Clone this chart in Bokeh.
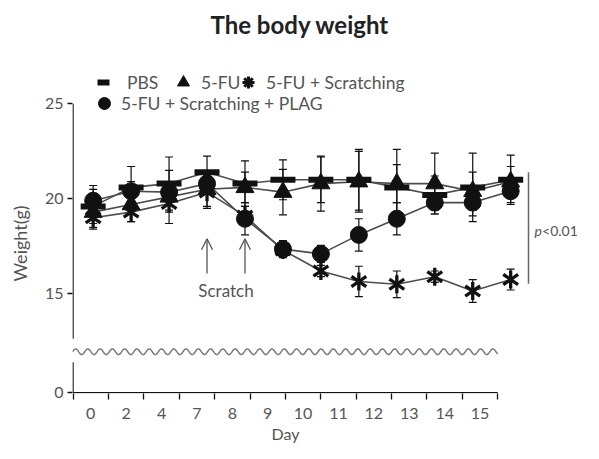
import math
from bokeh.plotting import figure
from bokeh.models import (Range1d, FixedTicker, CustomJSTickFormatter, ColumnDataSource,
                          Whisker, TeeHead, Legend, LegendItem, Arrow, OpenHead, Title)
from bokeh.core.properties import value
from bokeh.embed import file_html
from bokeh.resources import INLINE

# ---------------- data ----------------
days = ["0", "2", "4", "7", "8", "9", "10", "11", "12", "13", "14", "15"]
pbs_mean = [19.6, 20.6, 20.8, 21.4, 20.8, 21.0, 21.0, 21.0, 20.6, 20.2, 20.6, 21.0]
pbs_sd = [0.9, 1.1, 1.4, 0.85, 1.2, 1.05, 1.2, 1.6, 2.0, 1.0, 1.8, 1.3]
fu_mean = [19.3, 19.7, 20.1, 20.5, 20.6, 20.35, 20.8, 20.9, 20.8, 20.8, 20.4, 20.9]
fu_sd = [0.8, 0.9, 1.4, 0.9, 0.8, 1.2, 1.45, 1.6, 1.0, 1.6, 1.0, 0.8]
scr_mean = [19.0, 19.3, 19.75, 20.35, 19.1, 17.3, 16.2, 15.65, 15.5, 15.9, 15.15, 15.75]
scr_sd = [0.6, 0.5, 0.45, 0.85, 0.5, 0.3, 0.3, 0.8, 0.7, 0.3, 0.6, 0.55]
plag_mean = [19.9, 20.4, 20.35, 20.8, 18.95, 17.35, 17.1, 18.1, 18.95, 19.8, 19.8, 20.4]
plag_sd = [0.8, 0.5, 0.5, 0.5, 0.85, 0.45, 0.45, 0.85, 0.85, 0.4, 0.7, 0.6]
series_labels = ["PBS", "5-FU", "5-FU + Scratching", "5-FU + Scratching + PLAG"]
y_tick_labels = ["0", "15", "20", "25"]
scratch_days = ["7", "8"]
p_text = "<0.01"

# ---------------- layout constants ----------------
FONT = "Lato"
INK = "#111111"
LINE = "#4d4d4d"
TEXT = "#555555"
Y_ZERO = 9.8            # display position of the 0 tick below the axis break
Y_BREAK_LOW = 11.4      # top of lower axis stub
Y_BREAK_HIGH = 12.63    # bottom of upper axis part
WAVE_Y, WAVE_AMP, WAVE_PERIOD = 11.95, 0.153, 0.3234
LABEL_STEP = 0.9325
BOUND_FIRST = -0.53
LABEL_FIRST = BOUND_FIRST + LABEL_STEP / 2
BOUND_LAST = BOUND_FIRST + LABEL_STEP * len(days)

x = list(range(len(days)))

p = figure(width=583, height=443, output_backend="svg", toolbar_location=None,
           x_range=Range1d(-0.5443, 12.919), y_range=Range1d(9.753, 27.911),
           min_border_left=71, min_border_right=0, min_border_top=48, min_border_bottom=50)
p.outline_line_color = None
p.grid.visible = False
p.background_fill_color = "white"

# ---------------- titles ----------------
p.title = Title(text="The body weight", align="left", vertical_align="top", offset=138,
                text_font=FONT, text_font_size="24px", text_font_style="bold",
                text_color="#222222", standoff=16)
p.add_layout(Title(text="Day", align="left", offset=199, text_font=FONT, text_font_size="16px",
                   text_font_style="normal", text_color=TEXT, standoff=0), "below")
p.add_layout(Title(text="Weight(g)", align="left", vertical_align="top", offset=112,
                   text_font=FONT, text_font_size="18px", text_font_style="normal",
                   text_color=TEXT, standoff=17), "left")

# ---------------- axes ----------------
xa = p.xaxis[0]
xa.ticker = FixedTicker(ticks=[LABEL_FIRST + LABEL_STEP * k for k in range(len(days))],
                        minor_ticks=[BOUND_FIRST + LABEL_STEP * k for k in range(len(days) + 1)])
xa.formatter = CustomJSTickFormatter(args=dict(labels=days), code="return labels[index]")
xa.axis_line_color = None
xa.major_tick_out = 0
xa.major_tick_in = 0
xa.major_tick_line_color = None
xa.minor_tick_in = 0
xa.minor_tick_out = 6
xa.minor_tick_line_color = INK
xa.minor_tick_line_width = 1.3
xa.major_label_standoff = 8
xa.major_label_text_font = FONT
xa.major_label_text_font_size = "16px"
xa.major_label_text_color = TEXT

ya = p.yaxis[0]
ya.ticker = FixedTicker(ticks=[Y_ZERO, 15, 20, 25])
ya.formatter = CustomJSTickFormatter(args=dict(labels=y_tick_labels), code="return labels[index]")
ya.axis_line_color = None
ya.major_tick_out = 5
ya.major_tick_in = 0
ya.major_tick_line_color = INK
ya.major_tick_line_width = 1.3
ya.minor_tick_line_color = None
ya.major_label_standoff = 4
ya.major_label_text_font = FONT
ya.major_label_text_font_size = "16px"
ya.major_label_text_color = TEXT

# broken axis lines
p.segment(x0=[BOUND_FIRST, BOUND_FIRST], y0=[Y_ZERO, Y_BREAK_HIGH],
          x1=[BOUND_FIRST, BOUND_FIRST], y1=[Y_BREAK_LOW, 25], line_color=INK, line_width=1.3)
p.segment(x0=[BOUND_FIRST], y0=[Y_ZERO], x1=[BOUND_LAST], y1=[Y_ZERO], line_color=INK, line_width=1.3)

# wavy break line
n_wave = 400
w_start = -0.5443
wx = [w_start + (BOUND_LAST - w_start) * i / (n_wave - 1) for i in range(n_wave)]
wy = [WAVE_Y + WAVE_AMP * math.sin(2 * math.pi * (xx - w_start) / WAVE_PERIOD) for xx in wx]
p.line(wx, wy, line_color="#7a7a7a", line_width=1.5)

# ---------------- series ----------------
def add_errors(mean, sd):
    src = ColumnDataSource(dict(x=x, upper=[m + s for m, s in zip(mean, sd)],
                                lower=[m - s for m, s in zip(mean, sd)]))
    p.add_layout(Whisker(source=src, base="x", upper="upper", lower="lower", dimension="height",
                         line_color=INK, line_width=1.2,
                         upper_head=TeeHead(size=8, line_color=INK, line_width=1.2),
                         lower_head=TeeHead(size=8, line_color=INK, line_width=1.2)))

for mean, sd in [(pbs_mean, pbs_sd), (fu_mean, fu_sd), (scr_mean, scr_sd), (plag_mean, plag_sd)]:
    add_errors(mean, sd)
    p.line(x, mean, line_color=LINE, line_width=1.6)

r_plag = p.scatter(x, plag_mean, marker="circle", size=17, fill_color=INK, line_color=INK)
for a in (math.pi / 2, 0.6, -0.6):
    p.scatter(x, scr_mean, marker="dash", size=18, angle=a, line_color=INK, line_width=3.3)
r_fu = p.scatter(x, fu_mean, marker="triangle", size=18, fill_color=INK, line_color=INK)
r_pbs = p.scatter(x, pbs_mean, marker="dash", size=25, line_color=INK, line_width=6)
# legend-only proxy for the star symbol (legend glyphs cannot be rotated)
r_scr_key = p.scatter(x=[float("nan")], y=[float("nan")], marker="asterisk", size=18,
                      line_color=INK, line_width=3)

# ---------------- legends ----------------
def add_legend(label, renderers, vx, vy, standoff):
    lg = Legend(items=[LegendItem(label=label, renderers=renderers)], location=(vx, vy),
                orientation="horizontal", glyph_width=30, glyph_height=30,
                label_standoff=standoff, padding=0, margin=0, spacing=0,
                border_line_color=None, background_fill_alpha=0,
                label_text_font=FONT, label_text_font_size="17.5px", label_text_color=TEXT)
    p.add_layout(lg)

add_legend(series_labels[0], [r_pbs], 16, 296, 9)
add_legend(series_labels[1], [r_fu], 96, 296, 3)
add_legend(series_labels[2], [r_scr_key], 161, 296, 3)
add_legend(series_labels[3], [r_plag], 17, 275, 2)

# ---------------- annotations ----------------
for d in scratch_days:
    xi = days.index(d)
    p.add_layout(Arrow(end=OpenHead(size=11, line_color=TEXT, line_width=1.3),
                       x_start=xi, y_start=16.07, x_end=xi, y_end=17.9,
                       line_color=TEXT, line_width=1.3))
mid = (days.index(scratch_days[0]) + days.index(scratch_days[1])) / 2
p.text(x=[mid], y=[15.17], text=["Scratch"], text_font=value(FONT), text_font_size="17px",
       text_color=TEXT, text_align="center", text_baseline="middle")

P_X = 11.47
P_TEXT_X = 11.63
p.segment(x0=[P_X], y0=[15.53], x1=[P_X], y1=[21.4], line_color="#666666", line_width=1.5)
p.text(x=[P_TEXT_X], y=[18.33], text=["p"], text_font=value(FONT), text_font_size="14px",
       text_font_style="italic", text_color=TEXT, text_align="left", text_baseline="middle")
p.text(x=[P_TEXT_X], y=[18.33], text=[p_text], x_offset=7.5, text_font=value(FONT),
       text_font_size="14px", text_color=TEXT, text_align="left", text_baseline="middle")

open("out.html", "w").write(file_html(p, INLINE))
